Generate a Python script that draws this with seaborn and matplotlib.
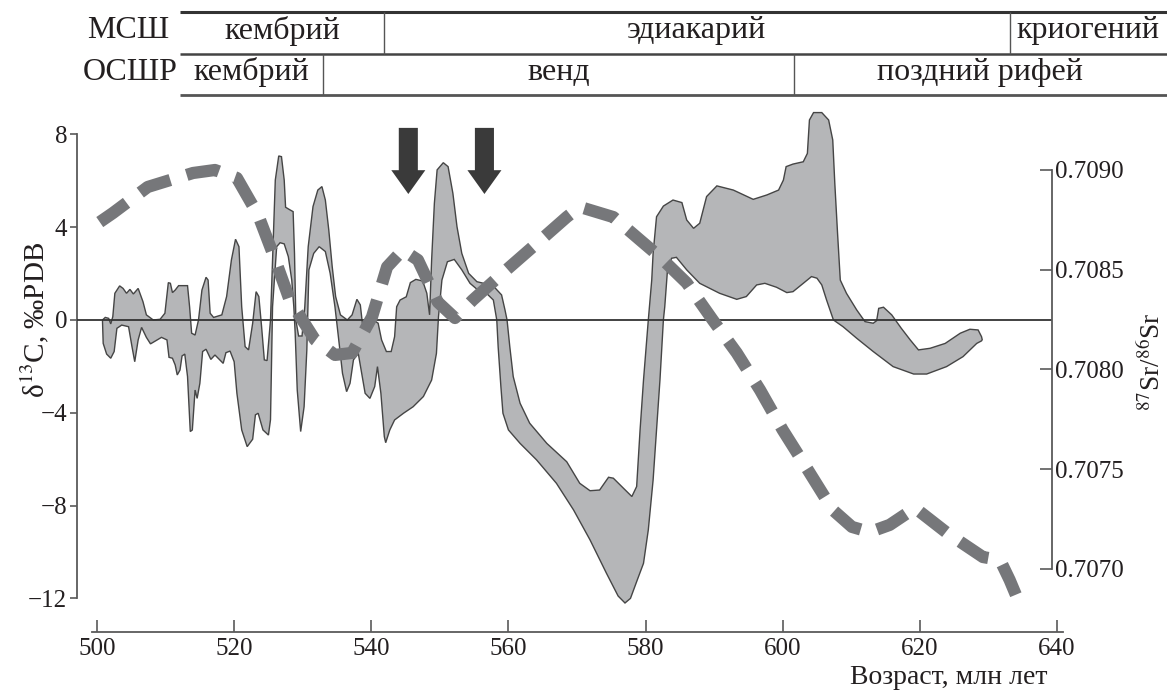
import matplotlib
matplotlib.use("Agg")
import matplotlib.pyplot as plt
import seaborn as sns

# ===== DONNEES =====
# Bande grise : delta13C, bord superieur et bord inferieur (age, valeur)
age_haut = [500.8, 501.2, 501.7, 502.0, 502.3, 502.6, 503.3, 503.8, 504.3, 504.8,
            505.3, 506.0, 506.7, 507.2, 508.2, 509.2, 509.9, 510.4, 510.7, 511.0,
            511.4, 511.9, 513.2, 513.5, 513.8, 514.3, 514.8, 515.3, 515.9, 516.2,
            516.5, 517.0, 518.2, 518.9, 519.6, 520.2, 520.7, 521.1, 521.6, 522.1,
            522.7, 523.2, 523.6, 524.0, 524.4, 524.8, 525.3, 525.7, 526.0, 526.5,
            526.9, 527.3, 527.5, 528.0, 528.6, 528.8, 529.0, 529.4, 529.9, 530.3,
            530.8, 531.5, 532.2, 532.8, 533.3, 533.8, 534.3, 534.8, 535.5, 536.5,
            537.2, 537.9, 538.4, 538.7, 539.3, 540.3, 541.0, 541.5, 542.2, 542.9,
            543.4, 543.7, 544.2, 545.1, 545.7, 546.5, 547.5, 548.1, 548.5, 548.8,
            549.2, 549.6, 550.5, 551.2, 551.9, 552.5, 553.2, 554.2, 555.4, 556.8,
            558.0, 559.0, 559.5, 559.8, 560.2, 560.7, 561.7, 563.1, 565.6, 568.5,
            570.4, 571.9, 573.3, 574.6, 575.3, 576.8, 578.0, 578.7, 579.2, 579.7,
            580.4, 580.9, 581.1, 581.6, 582.6, 584.0, 585.3, 586.0, 587.0, 587.9,
            588.9, 590.4, 592.8, 595.7, 597.7, 599.4, 600.1, 600.5, 601.5, 603.0,
            603.6, 603.9, 604.5, 605.7, 606.7, 607.3, 607.6, 608.0, 608.4, 609.3,
            610.8, 612.0, 613.2, 613.7, 614.0, 614.7, 615.9, 617.3, 618.6, 619.8,
            621.5, 623.7, 625.9, 627.3, 628.5, 629.0, 629.1]
d13c_haut = [0.0, 0.11, 0.07, -0.17, 0.14, 1.15, 1.47, 1.36, 1.15, 1.32,
             1.12, 1.36, 0.79, 0.22, 0.0, 0.03, 0.29, 1.61, 1.58, 1.18,
             1.29, 1.48, 1.48, 0.57, -0.57, -0.65, 0.0, 1.29, 1.84, 1.72,
             0.29, 0.11, 0.22, 1.01, 2.59, 3.48, 3.16, 0.57, -1.15, -1.29,
             -0.14, 1.22, 1.01, -0.29, -1.72, -1.75, 0.0, 3.45, 6.03, 7.07,
             7.04, 6.03, 4.86, 4.77, 4.67, 2.87, 0.0, -0.69, -0.69, 0.57,
             3.16, 4.89, 5.60, 5.75, 5.17, 3.88, 2.30, 1.01, 0.22, 0.0,
             0.22, 0.89, 0.65, -0.14, -0.2, 0.0, -0.14, -0.86, -1.36, -1.36,
             -0.72, 0.57, 0.86, 1.0, 1.61, 1.75, 1.68, 1.15, 0.22, 2.59,
             5.03, 6.47, 6.78, 6.61, 5.46, 4.02, 2.87, 2.01, 1.65, 1.55,
             1.40, 1.08, 0.43, 0.0, -1.15, -2.44, -3.59, -4.45, -5.32, -6.11,
             -7.04, -7.36, -7.33, -6.78, -6.82, -7.26, -7.61, -7.18, -4.74, -2.59,
             0.0, 1.72, 2.87, 4.45, 4.91, 5.17, 5.06, 4.31, 3.95, 4.17,
             5.32, 5.78, 5.60, 5.20, 5.39, 5.60, 6.03, 6.61, 6.72, 6.82,
             7.18, 8.62, 8.94, 8.94, 8.62, 7.76, 5.89, 3.74, 1.72, 1.15,
             0.43, -0.07, -0.14, -0.03, 0.50, 0.55, 0.22, -0.36, -0.86, -1.29,
             -1.22, -1.01, -0.57, -0.40, -0.43, -0.72, -0.85]

age_bas = [500.8, 500.9, 501.4, 502.0, 502.5, 502.9, 503.6, 504.6, 505.1, 505.5,
           506.0, 506.5, 507.2, 507.8, 508.6, 509.4, 510.2, 510.5, 511.0, 511.4,
           511.7, 512.1, 512.4, 512.8, 513.2, 513.6, 513.9, 514.3, 514.6, 515.0,
           515.4, 515.9, 516.6, 517.2, 517.9, 518.4, 518.8, 519.4, 520.0, 520.4,
           521.1, 521.9, 522.7, 523.1, 523.5, 524.2, 525.0, 525.3, 525.6, 526.2,
           526.7, 527.3, 527.9, 528.4, 528.7, 528.9, 529.2, 529.7, 530.2, 530.6,
           530.9, 531.6, 532.4, 533.3, 534.0, 534.7, 535.2, 535.8, 536.4, 536.9,
           537.4, 538.1, 538.6, 539.1, 539.8, 540.5, 540.9, 541.4, 541.9, 542.1,
           542.7, 543.4, 544.7, 546.1, 547.6, 548.8, 549.5, 549.8, 550.3, 551.1,
           552.1, 553.2, 554.4, 555.9, 556.8, 557.8, 558.3, 558.5, 558.9, 559.2,
           560.0, 561.7, 564.1, 567.0, 569.5, 571.9, 574.3, 576.0, 577.0, 577.8,
           578.8, 579.7, 580.4, 581.1, 581.6, 582.1, 582.6, 582.8, 583.2, 583.8,
           584.5, 586.0, 587.9, 590.8, 593.3, 594.7, 596.2, 597.4, 599.1, 600.6,
           601.5, 603.0, 604.2, 605.0, 605.7, 606.4, 607.4, 608.8, 610.8, 613.2,
           616.1, 619.1, 621.0, 623.9, 626.3, 628.3, 629.0]
d13c_bas = [-0.07, -1.01, -1.47, -1.65, -1.36, -0.36, -0.22, -0.29, -1.15, -1.80,
            -0.86, -0.32, -0.75, -1.03, -0.89, -0.75, -0.86, -1.61, -1.65, -1.94,
            -2.37, -2.16, -1.55, -1.47, -2.44, -4.81, -4.74, -3.02, -3.38, -2.73,
            -1.36, -1.26, -1.70, -1.51, -1.72, -1.87, -1.41, -1.34, -1.80, -3.16,
            -4.74, -5.46, -5.14, -4.09, -4.02, -4.74, -4.96, -4.3, 0.57, 3.16,
            3.33, 3.28, 2.73, 1.72, 0.57, -0.57, -3.02, -4.81, -3.74, -1.29,
            2.16, 2.87, 3.16, 2.95, 2.01, 0.57, -0.72, -2.30, -3.09, -2.73,
            -1.72, -1.44, -2.30, -3.16, -3.38, -2.87, -2.01, -3.16, -5.03, -5.29,
            -4.74, -4.31, -4.02, -3.74, -3.30, -2.59, -1.44, 0.14, 1.72, 2.51,
            2.61, 2.16, 1.58, 1.20, 1.15, 0.86, 0.0, -1.15, -2.87, -4.02,
            -4.74, -5.32, -6.03, -7.04, -8.19, -9.48, -10.92, -11.9, -12.2, -12.0,
            -11.2, -10.49, -9.05, -6.90, -4.74, -2.59, 0.0, 0.57, 2.16, 2.66,
            2.70, 2.16, 1.58, 1.15, 0.89, 1.01, 1.51, 1.58, 1.41, 1.18,
            1.22, 1.58, 1.87, 1.80, 1.51, 0.86, 0.0, -0.29, -0.79, -1.36,
            -2.01, -2.33, -2.33, -2.01, -1.58, -1.01, -0.9]

# Courbe 87Sr/86Sr (tirets)
age_sr = [500.4, 502.3, 507.4, 514.0, 517.2, 520.4, 523.5, 526.0, 528.1, 531.8,
          534.7, 537.2, 540.1, 542.3, 544.6, 546.8, 549.7, 552.2, 554.8, 559.2,
          564.2, 568.5, 570.4, 575.3, 579.2, 582.1, 586.0, 589.8, 593.3, 596.7,
          600.0, 603.5, 607.3, 610.1, 612.7, 615.6, 619.3, 624.0, 629.2, 631.7,
          633.1, 634.2]
sr_ratio = [0.708739, 0.708784, 0.708915, 0.708985, 0.709000, 0.708960, 0.708774,
            0.708549, 0.708348, 0.708148, 0.708073, 0.708083, 0.708263, 0.708514,
            0.708599, 0.708549, 0.708338, 0.708258, 0.708348, 0.708484, 0.708634,
            0.708764, 0.708815, 0.708764, 0.708649, 0.708564, 0.708434, 0.708248,
            0.708083, 0.707897, 0.707697, 0.707506, 0.707296, 0.707211, 0.707185,
            0.707221, 0.707306, 0.707180, 0.707060, 0.707045, 0.706945, 0.706855]

# Fleches (age) et echelles stratigraphiques
fleches_age = [545.4, 556.5]
msh_noms = ["кембрий", "эдиакарий", "криогений"]
msh_limites = [541.9, 633.1]
osshr_noms = ["кембрий", "венд", "поздний рифей"]
osshr_limites = [533.0, 601.6]
echelles = ["МСШ", "ОСШР"]

x_ticks = [500, 520, 540, 560, 580, 600, 620, 640]
d13c_ticks = [-12, -8, -4, 0, 4, 8]
sr_ticks = [0.7070, 0.7075, 0.7080, 0.7085, 0.7090]

# ===== STYLE =====
sns.set_theme(style="white")
plt.rcParams["font.family"] = ["Liberation Serif", "DejaVu Serif"]
plt.rcParams["mathtext.fontset"] = "stix"

W, H = 1167, 693
fig = plt.figure(figsize=(W / 100, H / 100), dpi=100)

# axes principal : px 77 -> 1063 en x, px 120 -> 632 en y
ax = fig.add_axes([77 / W, 1 - 632 / H, (1063 - 77) / W, 512 / H])
ax.set_xlim(497.08, 640.88)
ax.set_ylim(-13.45, 8.62)

gris_txt = "#231f20"
gris_axe = "#5a5a5a"

# bande delta13C
poly_x = age_haut + age_bas[::-1]
poly_y = d13c_haut + d13c_bas[::-1]
ax.fill(poly_x, poly_y, facecolor="#b5b6b8", edgecolor="#454545", lw=1.0,
        zorder=2, clip_on=False)

# ligne zero, entre les deux axes verticaux
sr_axe_x = 639.3
ax.hlines(0, 497.08, sr_axe_x, color="#333333", lw=1.3, zorder=3)

# fleches
for a in fleches_age:
    ax.annotate("", xy=(a, 5.43), xytext=(a, 8.28),
                arrowprops=dict(arrowstyle="simple,head_length=0.7,head_width=1.0,tail_width=0.56",
                                mutation_scale=24.5, fc="#3a3a3a", ec="none",
                                shrinkA=0, shrinkB=0),
                annotation_clip=False, zorder=5)

for s in ["top", "right"]:
    ax.spines[s].set_visible(False)
ax.spines["left"].set_bounds(-12, 8)
ax.spines["bottom"].set_bounds(499.3, 640.88)
for s in ["left", "bottom"]:
    ax.spines[s].set_color(gris_axe)
    ax.spines[s].set_linewidth(1.3)

ax.set_xticks(x_ticks)
ax.set_yticks(d13c_ticks)
ax.tick_params(axis="y", direction="out", length=5, width=1.2, color=gris_axe,
               labelsize=18, labelcolor=gris_txt, pad=2, left=True)
ax.tick_params(axis="x", direction="in", length=9, width=1.2, color=gris_axe,
               labelsize=18, labelcolor=gris_txt, pad=4, bottom=True)
ax.set_xlabel("")
ax.set_ylabel("")

# axe Sr (a droite)
ax2 = ax.twinx()
ax2.set_ylim(0.7066842, 0.7092506)
sns.lineplot(x=age_sr, y=sr_ratio, ax=ax2, color="#76777a", lw=8.8,
             linestyle=(0, (2.7, 1.4)), sort=False, zorder=4)
for s in ["top", "left", "bottom"]:
    ax2.spines[s].set_visible(False)
ax2.spines["right"].set_position(("data", sr_axe_x))
ax2.spines["right"].set_bounds(0.7070, 0.7090)
ax2.spines["right"].set_color(gris_axe)
ax2.spines["right"].set_linewidth(1.3)
ax2.set_yticks(sr_ticks)
ax2.set_yticklabels([f"{v:.4f}" for v in sr_ticks])
ax2.tick_params(axis="y", direction="in", length=9, width=1.2, color=gris_axe,
                labelsize=18, labelcolor=gris_txt, pad=2, right=True)
ax2.set_xlabel("")
ax2.set_ylabel("")
ax2.set_xlim(497.08, 640.88)
ax2.grid(False)
ax.grid(False)

# titres des axes
fig.text(35 / W, 1 - 320 / H, "δ$^{13}$C, ‰PDB", rotation=90, ha="center",
         va="center", fontsize=21, color=gris_txt)
fig.text(1166 / W, 1 - 362 / H, "$^{87}$Sr/$^{86}$Sr", rotation=90, ha="right",
         va="center", fontsize=19.5, color=gris_txt)
fig.text(1047 / W, 1 - 678 / H, "Возраст, млн лет", ha="right", va="center",
         fontsize=20, color=gris_txt)

# ===== ECHELLE STRATIGRAPHIQUE EN HAUT =====
axt = fig.add_axes([0, 1 - 110 / H, 1, 110 / H])
axt.set_xlim(485.854, 656.04)
axt.set_ylim(2.36, -0.29)
axt.axis("off")
debut = 512.1
fin = 656.04
axt.hlines(0, debut, fin, color="#333333", lw=2.2)
axt.hlines(1, debut, fin, color="#444444", lw=1.8)
axt.hlines(2, debut, fin, color="#555555", lw=2.0)

decalage = [1.5, 0.3]
for rang, (noms, limites) in enumerate([(msh_noms, msh_limites), (osshr_noms, osshr_limites)]):
    bords = [debut] + limites + [fin]
    for b in limites:
        axt.vlines(b, rang, rang + 1, color="#555555", lw=1.0)
    for i, nom in enumerate(noms):
        axt.text((bords[i] + bords[i + 1]) / 2, rang + 0.45, nom, ha="center",
                 va="center", fontsize=23, color=gris_txt)
    axt.text(debut - decalage[rang], rang + 0.45, echelles[rang], ha="right",
             va="center", fontsize=23, color=gris_txt)

plt.savefig("out.png", dpi=100)
